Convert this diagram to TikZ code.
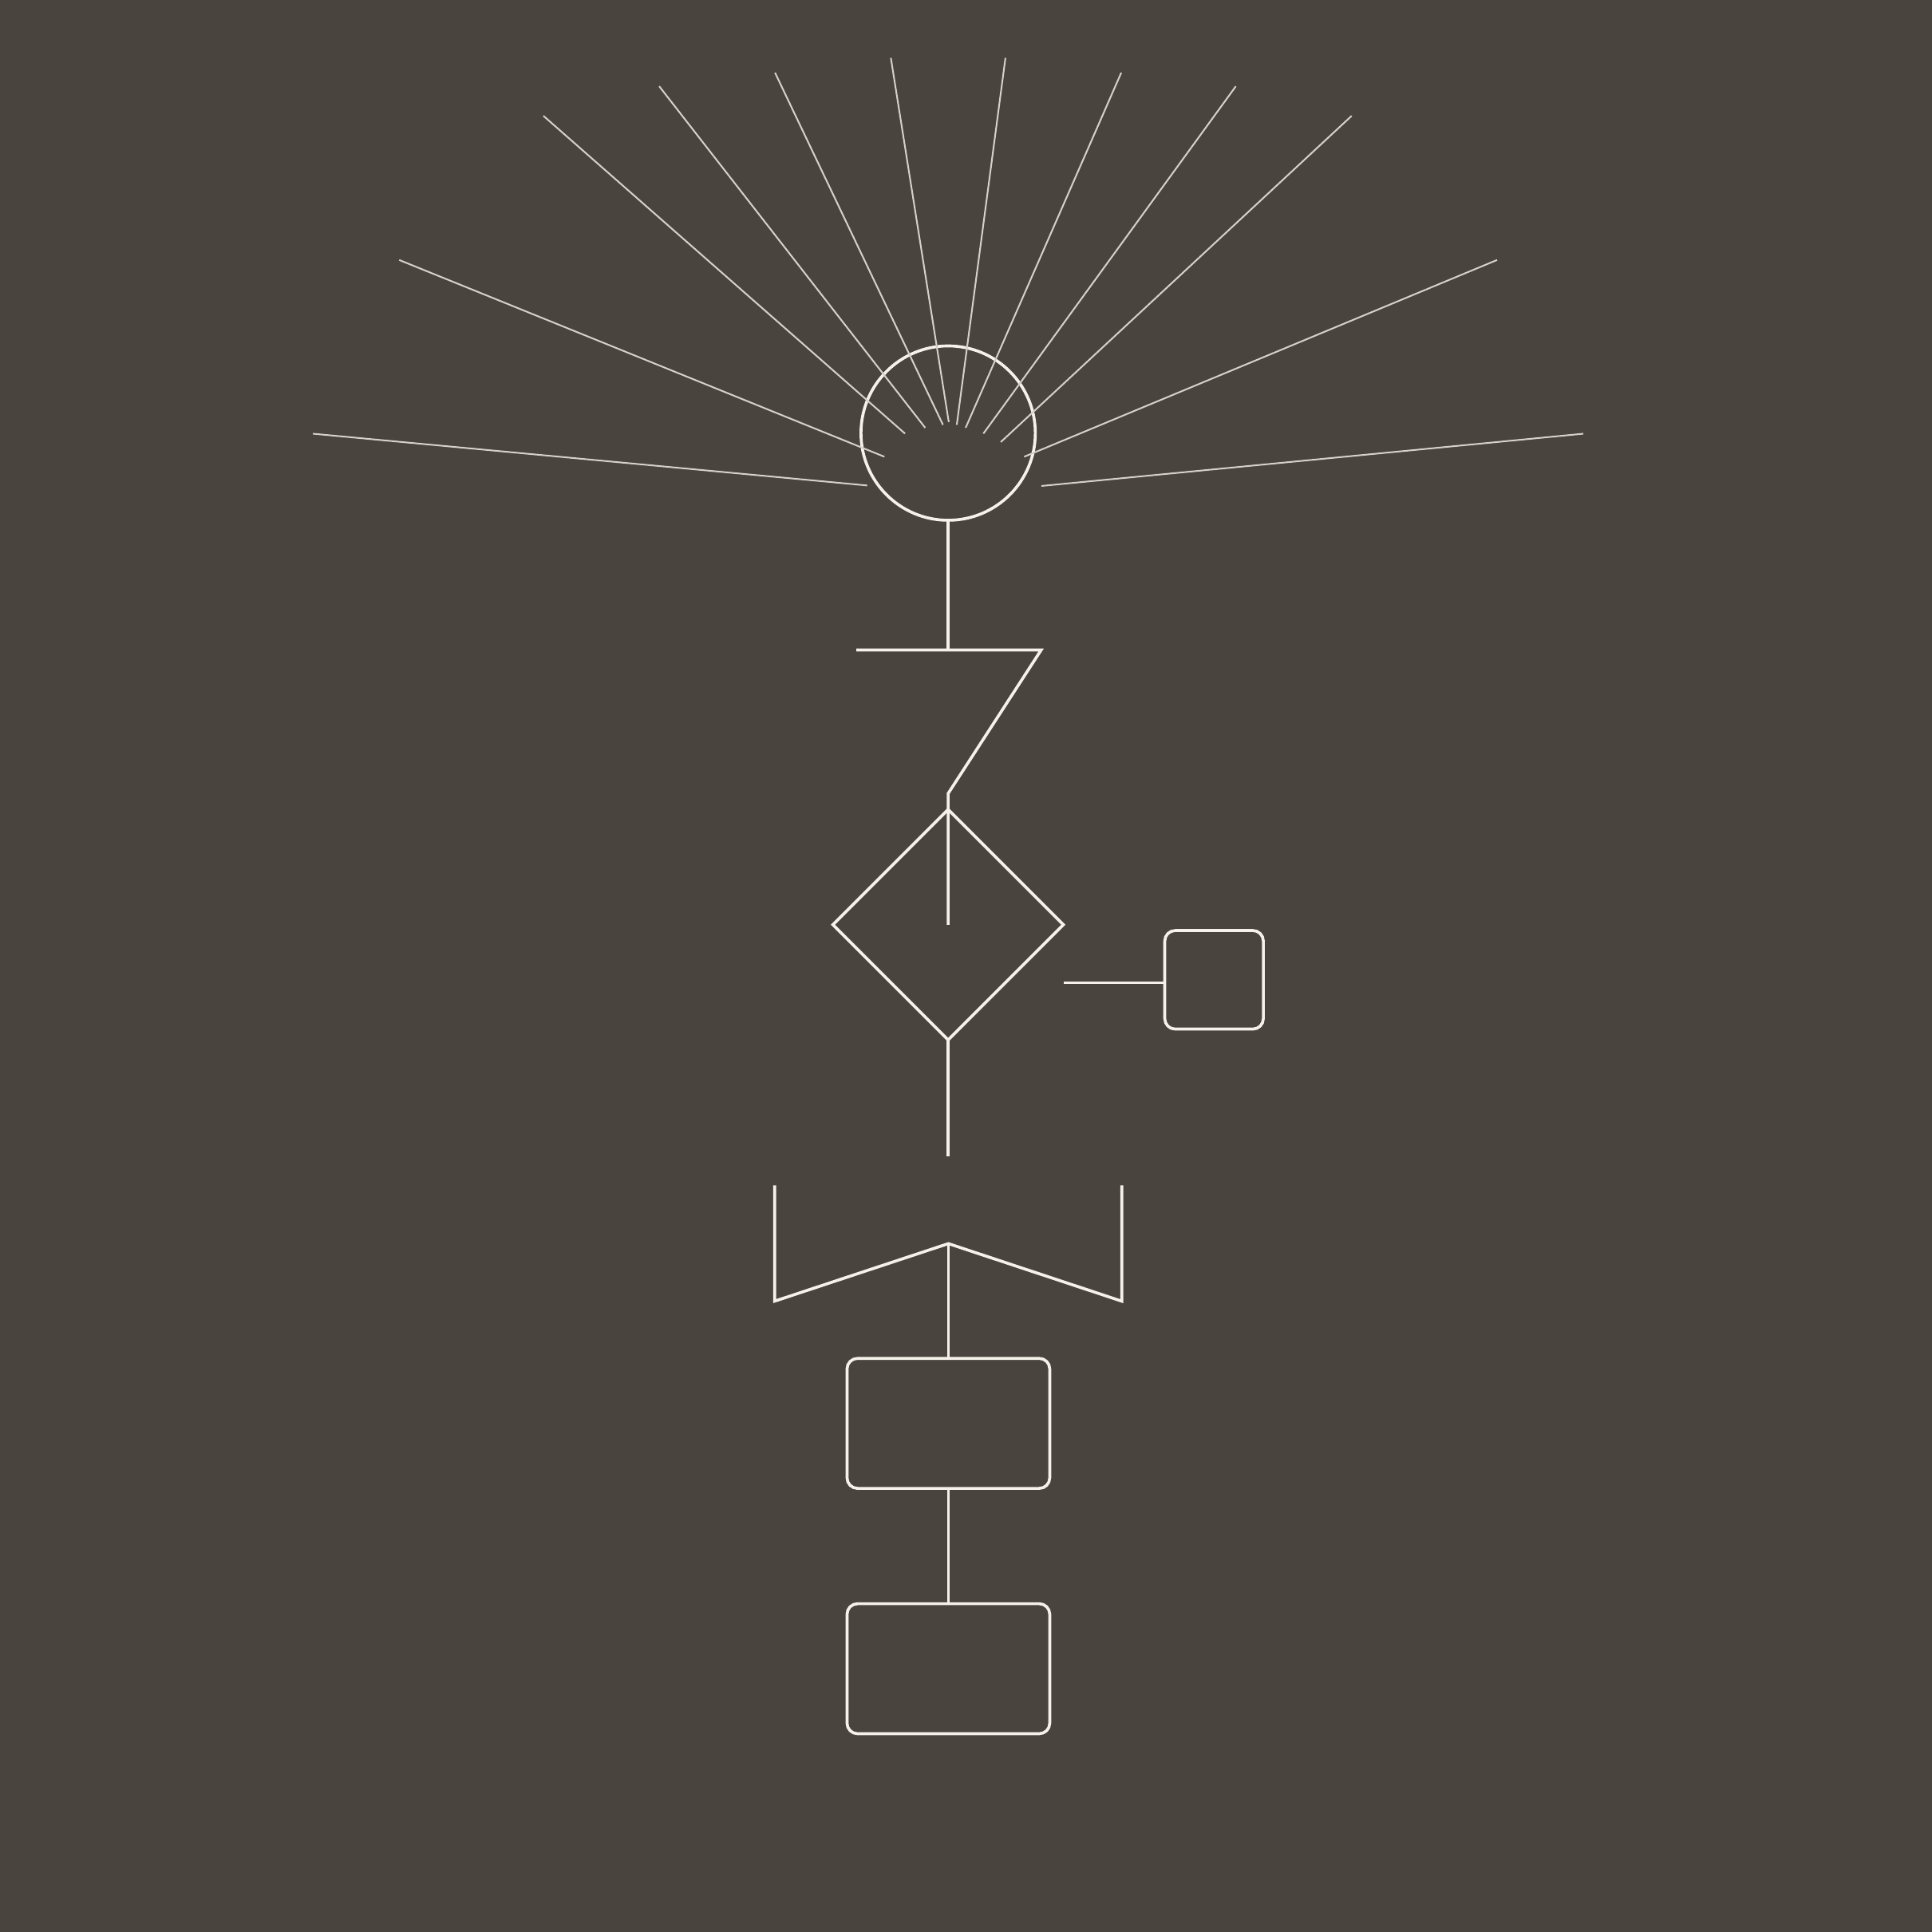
\documentclass[tikz,border=0pt]{standalone}
\usetikzlibrary{shapes.geometric}
\definecolor{bgc}{RGB}{74,68,62}
\definecolor{ink}{RGB}{245,242,234}
\definecolor{rayc}{RGB}{214,209,200}
\begin{document}
\begin{tikzpicture}[x=0.2mm,y=-0.2mm,
  main/.style={draw=ink,line width=1.35pt},
  ray/.style={draw=rayc,line width=0.75pt},
  box/.style={main,rectangle,rounded corners=1.7mm,inner sep=0pt,outer sep=0pt},
  ]
\fill[bgc] (0,0) rectangle (1568,1568);
\useasboundingbox (0,0) rectangle (1568,1568);
% sun
\node[main,circle,minimum size=28.3mm,inner sep=0pt,outer sep=0pt] (sun) at (769.5,351.5) {};
\foreach \ox/\oy/\ix/\iy in {
  254/352/703.8/394,
  324/211/717.8/370.7,
  441/94/734.5/351.9,
  535/70/750.9/347.2,
  629/59/765.3/344.8,
  723/47/770/342.5,
  816/47/776.5/344.8,
  910/59/783.7/347.2,
  1003/70/798.1/351.9,
  1097/94/812.2/358.8,
  1215/211/831.2/370.7,
  1285/352/845.2/394.4}
  \draw[ray] (\ox,\oy) -- (\ix,\iy);
% stem and Z path
\coordinate (tee) at (769.5,527.5);
\coordinate (zl) at (695,527.5);
\coordinate (zr) at (845,527.5);
\coordinate (zb) at (769.5,644);
\draw[main] (sun.south) -- (tee);
% diamond
\node[main,diamond,minimum width=37.4mm,minimum height=37.4mm,inner sep=0pt,outer sep=0pt] (dia) at (769.5,750.5) {};
\draw[main] (zl) -- (zr) -- (zb) -- (dia.center);
% side square
\node[box,minimum width=16mm,minimum height=16mm] (sq) at (985.3,795.2) {};
\coordinate (sl) at (863.5,797.6);
\draw[main] (sl) -- (sl -| sq.west);
% lower stem
\coordinate (ds) at (769.5,938.5);
\draw[main] (dia.south) -- (ds);
% fork
\coordinate (ap) at (769.7,1009.3);
\coordinate (fl) at (628.7,962);
\coordinate (fr) at (910.4,962);
\draw[main] (fl) -- (628.7,1056) -- (ap) -- (910.4,1056) -- (fr);
% boxes
\node[box,minimum width=32.9mm,minimum height=21.1mm] (r1) at (769.7,1155.2) {};
\node[box,minimum width=32.9mm,minimum height=21.1mm] (r2) at (769.7,1354.3) {};
\draw[main] (ap) -- (r1.north);
\draw[main] (r1.south) -- (r2.north);
\end{tikzpicture}
\end{document}
